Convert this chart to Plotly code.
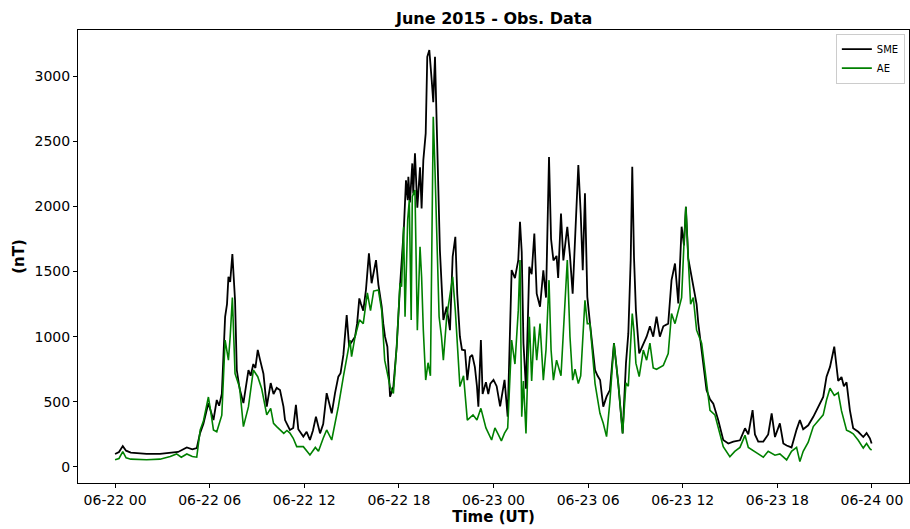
import pandas as pd
import plotly.graph_objects as go

start = pd.Timestamp("2015-06-22 00:00")

sme_hours = [0.0,0.25,0.49,0.7,1.0,1.5,2.0,2.85,3.5,4.0,4.55,4.9,5.18,5.39,5.6,5.92,6.24,6.45,6.6,6.77,
             6.98,7.1,7.19,7.3,7.44,7.61,7.72,7.9,8.14,8.3,8.46,8.6,8.77,8.9,9.05,9.2,9.41,9.62,9.87,10.05,
             10.25,10.46,10.68,10.78,10.95,11.09,11.3,11.47,11.62,11.8,11.94,12.15,12.36,12.55,12.74,13.0,13.2,13.42,13.6,13.74,
             13.95,14.16,14.3,14.48,14.69,14.84,15.0,15.22,15.35,15.49,15.6,15.74,15.91,16.1,16.27,16.4,16.55,16.7,16.91,17.01,
             17.12,17.27,17.44,17.65,17.86,18.07,18.32,18.45,18.56,18.6,18.7,18.85,18.91,19.02,19.17,19.34,19.44,19.55,19.7,19.8,
             19.93,20.08,20.18,20.29,20.44,20.6,20.82,21.03,21.24,21.41,21.58,21.7,21.87,22.0,22.19,22.34,22.51,22.65,22.82,22.95,
             23.04,23.2,23.31,23.52,23.67,23.8,24.0,24.2,24.42,24.7,24.9,25.15,25.36,25.57,25.68,25.79,25.9,26.06,26.27,26.42,
             26.59,26.74,26.95,27.16,27.33,27.52,27.65,27.8,28.0,28.1,28.28,28.43,28.68,28.85,29.02,29.17,29.38,29.53,29.66,29.8,
             29.95,30.12,30.44,30.6,30.76,30.96,31.17,31.38,31.64,31.91,32.19,32.4,32.55,32.7,32.8,32.91,33.03,33.24,33.5,33.71,
             33.92,34.13,34.34,34.55,34.77,35.08,35.29,35.51,35.72,35.93,36.08,36.2,36.35,36.5,36.67,36.88,36.99,37.2,37.51,37.73,
             37.94,38.25,38.57,38.89,39.21,39.63,39.95,40.16,40.43,40.58,40.79,41.11,41.42,41.64,41.85,42.16,42.38,42.59,42.9,43.22,
             43.43,43.64,43.96,44.28,44.6,44.91,45.12,45.34,45.61,45.86,46.07,46.22,46.39,46.6,46.81,47.13,47.45,47.66,47.87,47.98]
sme_values = [100,115,160,125,110,105,100,100,110,115,150,135,145,260,330,490,360,514,470,560,
              1153,1250,1460,1420,1634,1280,744,600,490,620,744,700,790,760,898,820,716,463,644,560,
              607,590,463,360,320,284,300,476,290,260,233,270,207,280,386,258,330,567,480,412,
              567,693,720,860,1166,930,960,1000,1100,1294,1250,1200,1358,1640,1410,1500,1588,1400,1230,1100,
              1000,923,540,617,923,1383,1844,2200,2048,2228,2030,2330,2100,2407,1990,2300,1985,2355,2560,3148,
              3200,2970,2800,3148,2432,1665,1128,1230,1050,1614,1767,1330,1000,900,896,667,844,860,767,620,
              463,974,560,650,560,640,668,620,465,668,386,1511,1450,1588,1882,1650,950,600,1536,1480,
              1792,1330,1230,1510,1300,2380,1750,1585,1620,1450,1946,1585,1844,1620,1330,1792,2317,1950,1510,2100,
              1306,1100,744,700,668,463,540,590,950,644,258,795,1025,1588,2305,1610,1204,872,950,1000,
              1080,1000,1153,1000,1080,1100,1434,1562,1256,1844,1700,1997,1600,1500,1358,1250,1100,896,590,520,
              486,360,207,180,195,205,297,250,437,250,195,195,250,411,230,335,180,165,150,287,
              360,290,320,385,461,537,693,768,923,660,690,620,650,437,297,270,230,260,220,180]

ae_hours = [0.0,0.25,0.49,0.7,1.0,2.0,2.85,3.2,3.5,3.9,4.2,4.55,4.9,5.18,5.4,5.6,5.92,6.1,6.24,6.45,
            6.77,6.98,7.1,7.19,7.3,7.44,7.61,7.9,8.14,8.46,8.77,9.05,9.3,9.62,9.87,10.05,10.25,10.46,10.7,10.9,
            11.09,11.3,11.52,11.94,12.15,12.36,12.7,12.9,13.2,13.42,13.74,14.16,14.48,14.69,14.9,15.0,15.22,15.5,15.74,16.0,
            16.2,16.4,16.7,16.91,17.1,17.44,17.65,17.86,18.07,18.17,18.3,18.39,18.56,18.66,18.78,18.85,19.02,19.17,19.34,19.44,
            19.55,19.7,19.85,20.0,20.18,20.29,20.4,20.55,20.7,20.82,21.03,21.24,21.41,21.58,21.7,21.87,22.1,22.34,22.7,22.95,
            23.2,23.52,23.88,24.09,24.3,24.5,24.7,24.9,25.15,25.36,25.57,25.68,25.79,25.9,26.06,26.27,26.42,26.59,26.74,26.95,
            27.16,27.33,27.52,27.65,27.8,28.0,28.28,28.43,28.68,28.85,29.02,29.17,29.38,29.53,29.66,29.8,29.95,30.12,30.44,30.75,
            30.96,31.17,31.38,31.64,31.91,32.19,32.4,32.55,32.8,32.91,33.03,33.24,33.5,33.71,33.92,34.13,34.34,34.77,35.08,35.29,
            35.51,35.93,36.08,36.2,36.35,36.5,36.67,36.88,37.2,37.51,37.73,38.04,38.25,38.57,38.99,39.3,39.63,39.95,40.16,40.58,
            40.79,41.11,41.42,41.85,42.16,42.59,42.9,43.22,43.43,43.64,43.96,44.28,44.6,44.91,45.12,45.34,45.61,45.86,46.07,46.22,
            46.39,46.6,46.81,47.13,47.45,47.66,47.87,47.98]
ae_values = [55,65,117,70,60,55,60,70,80,100,75,100,80,75,284,350,537,400,284,270,
             398,974,900,820,1000,1300,716,610,310,463,744,693,600,400,450,335,310,284,258,280,
             260,220,156,156,120,92,150,120,220,284,207,463,693,820,974,847,1000,1130,1100,1337,
             1200,1350,1358,1200,820,617,565,923,1410,1383,1844,1153,1900,2048,1128,2074,2125,1050,1690,1460,
             1050,667,800,700,2688,2279,1869,1153,1000,820,1150,1330,1460,1200,950,617,700,360,400,360,
             450,300,207,300,250,200,260,300,974,790,1200,1588,386,660,258,1153,660,1077,820,1100,
             667,900,1434,900,667,820,700,1000,1588,1000,667,750,640,700,1000,1280,1100,1100,640,412,
             335,233,500,950,644,258,644,620,1178,1040,797,694,897,820,950,760,750,780,870,1178,
             1100,1300,1716,1997,1600,1250,1300,1050,950,665,435,400,300,155,79,120,150,243,150,120,
             100,75,120,90,100,54,120,150,41,120,190,310,360,400,514,604,550,570,430,360,
             283,270,255,205,145,180,140,130]

sme_t = [start + pd.Timedelta(hours=h) for h in sme_hours]
ae_t = [start + pd.Timedelta(hours=h) for h in ae_hours]

font = "DejaVu Sans"
fig = go.Figure()
fig.add_trace(go.Scatter(x=sme_t, y=sme_values, mode="lines", name="SME",
                         line=dict(color="black", width=1.8)))
fig.add_trace(go.Scatter(x=ae_t, y=ae_values, mode="lines", name="AE",
                         line=dict(color="#008000", width=1.6)))

fig.update_layout(
    width=910, height=529,
    margin=dict(l=78, r=1, t=30, b=46),
    paper_bgcolor="white", plot_bgcolor="white",
    font=dict(family=font, color="black", size=14),
    title=dict(text="<b>June 2015 - Obs. Data</b>", x=0.543, xanchor="center",
               y=0.966, yanchor="middle", font=dict(size=16, family=font)),
    showlegend=True,
    legend=dict(x=0.995, y=0.992, xanchor="right", yanchor="top",
                bgcolor="white", bordercolor="#cccccc", borderwidth=1,
                font=dict(size=10, family=font), tracegroupgap=0,
                itemwidth=30),
)
fig.update_xaxes(
    type="date", automargin=False,
    range=[start - pd.Timedelta(hours=2.35), start + pd.Timedelta(hours=50.35)],
    tickformat="%m-%d %H", dtick=6 * 3600 * 1000,
    tick0=start,
    showgrid=False, zeroline=False,
    showline=True, linecolor="black", linewidth=1, mirror=True,
    ticks="outside", ticklen=4, tickcolor="black",
    tickfont=dict(size=14, family=font),
    title=dict(text="<b>Time (UT)</b>", font=dict(size=15, family=font), standoff=2),
)
fig.update_yaxes(
    automargin=False,
    range=[-123, 3354],
    tickvals=[0, 500, 1000, 1500, 2000, 2500, 3000],
    showgrid=False, zeroline=False,
    showline=True, linecolor="black", linewidth=1, mirror=True,
    ticks="outside", ticklen=4, tickcolor="black",
    tickfont=dict(size=14, family=font),
    title=dict(text="<b>(nT)</b>", font=dict(size=15, family=font), standoff=6),
)

fig.write_html("out.html", config={"displayModeBar": False},
               post_script="document.body.style.margin='0';document.body.style.overflow='hidden';")
